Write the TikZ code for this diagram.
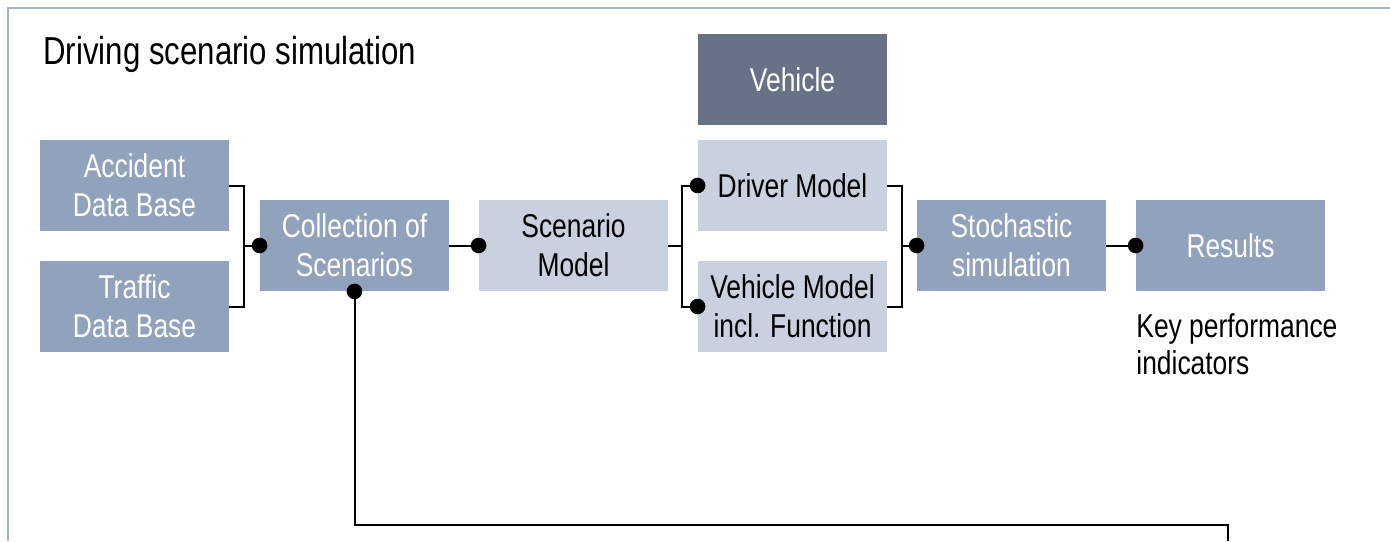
\documentclass[tikz,border=0pt]{standalone}
\usepackage{fontspec}
\setmainfont{Liberation Sans}[FakeStretch=0.8]
\definecolor{frameblue}{HTML}{A3B0C7}
\definecolor{midblue}{HTML}{91A2BC}
\definecolor{lightblue}{HTML}{C9D1DF}
\definecolor{darkslate}{HTML}{677287}
\tikzset{
  box/.style={minimum width=94.5pt, minimum height=45.5pt, inner sep=0pt,
    align=center, font=\fontsize{16.5}{19.5}\selectfont},
  midbox/.style={box, fill=midblue, text=white},
  lightbox/.style={box, fill=lightblue, text=black},
  darkbox/.style={box, fill=darkslate, text=white},
  wire/.style={line width=1pt, black},
  dotr/.store in=\dotr, dotr=3.9pt
}
\begin{document}
\begin{tikzpicture}[x=0.5pt, y=-0.5pt]
\useasboundingbox (0,0) rectangle (1390,541);
% frame lines
\draw[frameblue, line width=1.2pt] (8,541) -- (8,8) -- (1390,8);
% title
\node[anchor=base west, inner sep=0pt, font=\fontsize{19.5}{23}\selectfont] (title) at (43,64) {Driving scenario simulation};
% blocks
\node[midbox] (acc) at (134.5,185.5) {Accident\\Data Base};
\node[midbox] (tra) at (134.5,306.5) {Traffic\\Data Base};
\node[midbox] (col) at (354.5,245.5) {Collection of\\Scenarios};
\node[lightbox] (scen) at (573.5,245.5) {Scenario\\Model};
\node[darkbox] (veh) at (792.5,79.5) {Vehicle};
\node[lightbox] (drv) at (792.5,185.5) {Driver Model};
\node[lightbox] (vm) at (792.5,306.5) {Vehicle Model\\incl. Function};
\node[midbox] (sto) at (1011.5,245.5) {Stochastic\\simulation};
\node[midbox] (res) at (1230.5,245.5) {Results};
\node[anchor=base west, inner sep=0pt, align=left, font=\fontsize{16.5}{18.5}\selectfont] (kpi) at (1136,374) {Key performance\\indicators};
% junction points
\coordinate (j1) at (244,245.5);
\coordinate (j2) at (682,245.5);
\coordinate (j3) at (902,245.5);
\coordinate (bl) at (354.5,525);
\coordinate (br) at (1228,525);
\coordinate (bend) at (1228,541);
% connectors
\draw[wire] (acc.east) -| (j1) |- (tra.east);
\draw[wire] (j1) -- (col.west);
\draw[wire] (col.east) -- (scen.west);
\draw[wire] (scen.east) -- (j2);
\draw[wire] (drv.west) -| (j2) |- (vm.west);
\draw[wire] (drv.east) -| (j3) |- (vm.east);
\draw[wire] (j3) -- (sto.west);
\draw[wire] (sto.east) -- (res.west);
\draw[wire] (col.south) -- (bl) -- (br) -- (bend);
% connection dots
\foreach \p in {col.west, scen.west, drv.west, vm.west, sto.west, res.west, col.south}
  \fill (\p) circle (\dotr);
\end{tikzpicture}
\end{document}
